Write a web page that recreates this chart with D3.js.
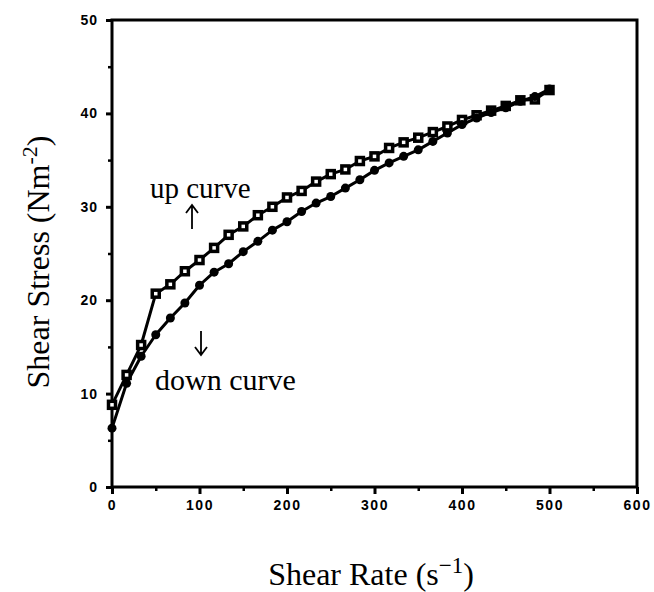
<!DOCTYPE html>
<html><head><meta charset="utf-8">
<script src="https://cdn.jsdelivr.net/npm/d3@7"></script>
<style>body{margin:0;background:#fff}</style>
</head><body>
<script>
// Shear rate sample points (s^-1)
const shearRate = [0,16.7,33.3,50,66.7,83.3,100,116.7,133.3,150,166.7,183.3,200,216.7,233.3,250,266.7,283.3,300,316.7,333.3,350,366.7,383.3,400,416.7,433.3,450,466.7,483.3,500];
const upStress = [8.8,12.0,15.2,20.7,21.7,23.1,24.3,25.6,27.0,27.9,29.1,30.0,31.0,31.7,32.7,33.5,34.0,34.9,35.4,36.3,36.9,37.4,38.0,38.6,39.3,39.8,40.3,40.8,41.4,41.5,42.5];
const downStress = [6.3,11.1,14.0,16.3,18.1,19.7,21.6,23.0,23.9,25.2,26.3,27.5,28.4,29.5,30.4,31.1,32.0,32.9,33.9,34.7,35.4,36.1,37.0,37.9,38.8,39.5,40.1,40.6,41.3,41.8,42.6];
const xTicks = [0,100,200,300,400,500,600];
const yTicks = [0,10,20,30,40,50];
const xMinor = [50,150,250,350,450,550];
const yMinor = [5,15,25,35,45];

const W=654,H=592, m={l:112,r:17,t:20,b:105};
const svg=d3.select("body").append("svg").attr("width",W).attr("height",H);
const x=d3.scaleLinear().domain([0,600]).range([m.l,W-m.r]);
const y=d3.scaleLinear().domain([0,50]).range([H-m.b,m.t]);

// frame
svg.append("rect").attr("x",x(0)).attr("y",y(50)).attr("width",x(600)-x(0)).attr("height",y(0)-y(50))
  .attr("fill","none").attr("stroke","#000").attr("stroke-width",3);

const tickFont="'Liberation Sans',Arial,sans-serif";
// x axis
const gx=svg.append("g").attr("transform",`translate(0,${y(0)})`)
  .call(d3.axisBottom(x).tickValues(xTicks).tickSize(7).tickPadding(6).tickFormat(d3.format("d")));
gx.select(".domain").remove();
gx.selectAll("line").attr("stroke-width",3);
gx.selectAll("text").attr("font-family",tickFont).attr("font-weight","bold").attr("font-size",14).attr("letter-spacing",1.5);
const gxm=svg.append("g").attr("transform",`translate(0,${y(0)})`)
  .call(d3.axisBottom(x).tickValues(xMinor).tickSize(4).tickFormat(""));
gxm.select(".domain").remove(); gxm.selectAll("line").attr("stroke-width",2.5);

// y axis
const gy=svg.append("g").attr("transform",`translate(${x(0)},0)`)
  .call(d3.axisLeft(y).tickValues(yTicks).tickSize(6).tickPadding(8).tickFormat(d3.format("d")));
gy.select(".domain").remove();
gy.selectAll("line").attr("stroke-width",3);
gy.selectAll("text").attr("font-family",tickFont).attr("font-weight","bold").attr("font-size",14).attr("letter-spacing",1);
const gym=svg.append("g").attr("transform",`translate(${x(0)},0)`)
  .call(d3.axisLeft(y).tickValues(yMinor).tickSize(4).tickFormat(""));
gym.select(".domain").remove(); gym.selectAll("line").attr("stroke-width",2.5);

// lines
const line=d3.line().x(d=>x(d[0])).y(d=>y(d[1]));
const up=shearRate.map((r,i)=>[r,upStress[i]]);
const down=shearRate.map((r,i)=>[r,downStress[i]]);
[up,down].forEach(s=>svg.append("path").datum(s).attr("d",line).attr("fill","none")
  .attr("stroke","#000").attr("stroke-width",3).attr("stroke-linejoin","round"));

// markers
svg.append("g").selectAll("rect").data(up).join("rect")
  .attr("x",d=>x(d[0])-3.5).attr("y",d=>y(d[1])-3.5).attr("width",7).attr("height",7)
  .attr("fill","#fff").attr("stroke","#000").attr("stroke-width",3.5);
svg.append("g").selectAll("circle").data(down).join("circle")
  .attr("cx",d=>x(d[0])).attr("cy",d=>y(d[1])).attr("r",4.5).attr("fill","#000");

const serif="'Liberation Serif','Times New Roman',serif";
// annotations
svg.append("text").attr("x",150).attr("y",198).attr("font-family",serif).attr("font-size",29).text("up curve");
svg.append("text").attr("x",155).attr("y",390).attr("font-family",serif).attr("font-size",30).text("down curve");
const arrow=(xx,y1,y2)=>{
  const dir=y2<y1?1:-1;
  svg.append("path").attr("d",`M${xx},${y1}L${xx},${y2}M${xx-6},${y2+dir*8}L${xx},${y2}L${xx+6},${y2+dir*8}`)
    .attr("fill","none").attr("stroke","#000").attr("stroke-width",1.8);
};
arrow(192,229,205);
arrow(201,331,355);

// axis titles
const yt=svg.append("text").attr("transform",`translate(49,262) rotate(-90)`).attr("text-anchor","middle")
  .attr("font-family",serif).attr("font-size",32);
yt.append("tspan").text("Shear Stress (Nm");
yt.append("tspan").attr("dy",-12).attr("font-size",22).text("-2");
yt.append("tspan").attr("dy",12).text(")");
const xt=svg.append("text").attr("x",371).attr("y",585).attr("text-anchor","middle")
  .attr("font-family",serif).attr("font-size",32);
xt.append("tspan").text("Shear Rate (s");
xt.append("tspan").attr("dy",-12).attr("font-size",23).text("\u22121");
xt.append("tspan").attr("dy",12).text(")");
</script>
</body></html>
